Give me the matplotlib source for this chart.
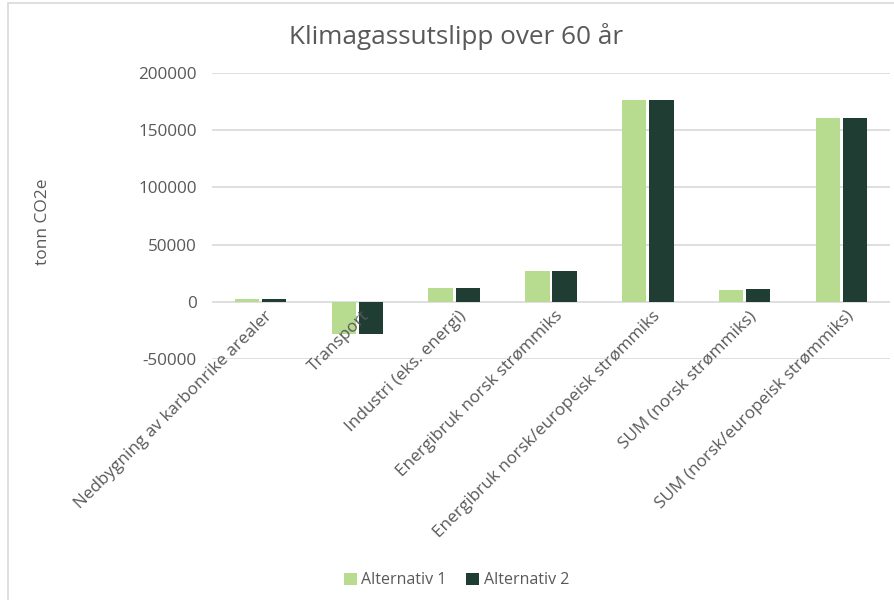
import numpy as np
import matplotlib.pyplot as plt
from matplotlib.patches import Rectangle

categories = [
    "Nedbygning av karbonrike arealer",
    "Transport",
    "Industri (eks. energi)",
    "Energibruk norsk strømmiks",
    "Energibruk norsk/europeisk strømmiks",
    "SUM (norsk strømmiks)",
    "SUM (norsk/europeisk strømmiks)",
]
alternativ_1 = [2500, -28500, 12500, 26500, 176000, 10500, 160500]
alternativ_2 = [2500, -28500, 12500, 26500, 176000, 11500, 160500]
y_ticks = [-50000, 0, 50000, 100000, 150000, 200000]

light = "#b7dc8f"
dark = "#1f3d33"
grey = "#595959"

plt.rcParams['font.family'] = ['Open Sans', 'DejaVu Sans']

fig = plt.figure(figsize=(8.95, 6), dpi=100)
ax = fig.add_axes([212 / 895, 1 - 359 / 600, 678 / 895, (359 - 73) / 600])

x = np.arange(len(categories))
w = 0.25
ax.bar(x - w / 2 - 0.015, alternativ_1, width=w, color=light, label="Alternativ 1", zorder=3)
ax.bar(x + w / 2 + 0.015, alternativ_2, width=w, color=dark, label="Alternativ 2", zorder=3)

ax.set_xlim(-0.5, len(categories) - 0.5)
ax.set_ylim(-50000, 200000)
ax.set_yticks(y_ticks)
ax.set_yticklabels([str(v) for v in y_ticks], fontsize=12.3, color=grey)
ax.yaxis.grid(True, color="#d9d9d9", linewidth=1.2, zorder=0)
ax.set_axisbelow(True)
for s in ax.spines.values():
    s.set_visible(False)
ax.tick_params(axis="both", length=0)
ax.tick_params(axis="y", pad=11)
ax.set_xticks([])

# category labels hang from just below the zero line
for xi, name in zip(x, categories):
    ax.text(xi + 0.04, -5500, name, rotation=45, ha="right", va="top",
            rotation_mode="anchor", fontsize=12.3, color=grey, zorder=4)

ax.set_ylabel("tonn CO2e", fontsize=12.5, color=grey)
ax.yaxis.set_label_coords(-0.238, 0.48)

fig.text(0.51, 0.94, "Klimagassutslipp over 60 år", ha="center", va="center",
         fontsize=18.8, color=grey)

fig.legend(loc="center", bbox_to_anchor=(0.51, 0.033), ncol=2, frameon=False,
           fontsize=11.5, handlelength=0.8, handleheight=0.8, handletextpad=0.3,
           columnspacing=1.2, labelcolor=grey)

fig.patches.append(Rectangle((8 / 895, -0.01), 1.0, 1 - 3 / 600 + 0.01,
                             transform=fig.transFigure, fill=False,
                             edgecolor="#d9d9d9", linewidth=1.2))

fig.savefig("out.png", dpi=100, facecolor="white")
